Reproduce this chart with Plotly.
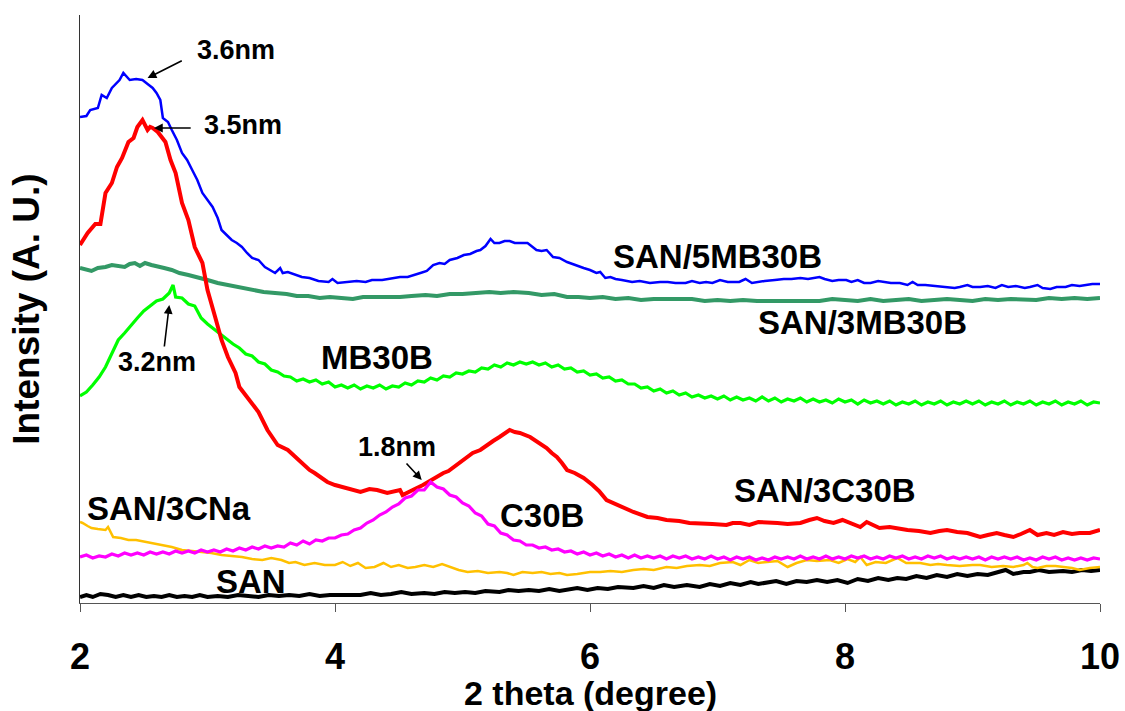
import plotly.graph_objects as go

# ---- data: (2theta in degree, intensity in arbitrary units) ----
san_5mb30b = [(2.00,486),(2.05,487),(2.08,493),(2.12,494),(2.14,495),(2.17,508),(2.21,505),(2.25,515),(2.29,520),(2.31,523),(2.34,530),(2.37,526),(2.39,523),(2.44,524),(2.49,523),(2.53,519),(2.57,515),(2.60,510),(2.63,503),(2.65,485),(2.69,481),(2.72,473),(2.76,463),(2.80,450),(2.84,443),(2.88,433),(2.92,423),(2.96,410),(3.00,403),(3.04,396),(3.08,385),(3.11,373),(3.15,368),(3.19,363),(3.23,360),(3.27,356),(3.31,350),(3.35,345),(3.40,343),(3.45,336),(3.49,333),(3.53,330),(3.57,335),(3.59,330),(3.63,331),(3.69,328),(3.74,326),(3.80,325),(3.87,322),(3.95,321),(3.98,324),(4.02,320),(4.10,321),(4.17,322),(4.24,321),(4.29,323),(4.37,323),(4.43,324),(4.51,326),(4.57,326),(4.63,328),(4.67,330),(4.72,332),(4.77,338),(4.82,340),(4.86,339),(4.90,343),(4.96,345),(5.01,348),(5.06,349),(5.11,352),(5.14,353),(5.18,357),(5.22,364),(5.25,360),(5.29,360),(5.33,362),(5.37,362),(5.41,360),(5.45,360),(5.51,360),(5.55,356),(5.58,353),(5.62,352),(5.66,353),(5.71,346),(5.76,345),(5.82,341),(5.88,338),(5.95,335),(6.00,333),(6.05,330),(6.08,331),(6.12,325),(6.16,326),(6.20,324),(6.25,323),(6.33,321),(6.39,322),(6.47,320),(6.55,321),(6.61,321),(6.67,320),(6.75,320),(6.80,322),(6.86,320),(6.91,321),(6.96,320),(7.02,323),(7.08,321),(7.17,321),(7.22,324),(7.27,320),(7.31,321),(7.37,322),(7.45,323),(7.52,324),(7.58,324),(7.65,325),(7.71,324),(7.76,325),(7.80,326),(7.84,324),(7.90,322),(7.95,323),(8.01,323),(8.05,321),(8.10,323),(8.15,320),(8.20,320),(8.26,322),(8.31,321),(8.36,320),(8.43,320),(8.49,318),(8.53,321),(8.57,318),(8.63,318),(8.71,317),(8.78,316),(8.86,315),(8.90,316),(8.96,318),(9.00,316),(9.06,316),(9.12,317),(9.18,315),(9.23,318),(9.28,316),(9.34,317),(9.41,315),(9.45,316),(9.51,318),(9.55,315),(9.61,314),(9.66,316),(9.73,316),(9.78,318),(9.84,317),(9.89,318),(9.94,319),(10.00,319)]

san_3mb30b = [(2.00,335),(2.05,333),(2.09,332),(2.14,335),(2.20,336),(2.25,338),(2.30,337),(2.35,336),(2.39,339),(2.43,340),(2.47,337),(2.51,340),(2.56,338),(2.61,336),(2.66,335),(2.72,333),(2.78,330),(2.85,328),(2.92,326),(3.00,323),(3.08,320),(3.16,318),(3.25,316),(3.35,313),(3.44,311),(3.53,310),(3.62,309),(3.70,307),(3.79,307),(3.88,305),(3.96,306),(4.05,305),(4.14,304),(4.22,306),(4.31,306),(4.40,305),(4.51,306),(4.60,307),(4.71,308),(4.80,307),(4.90,309),(5.00,309),(5.10,310),(5.21,311),(5.30,310),(5.40,311),(5.52,310),(5.62,308),(5.72,309),(5.82,306),(5.91,306),(6.00,305),(6.10,306),(6.20,304),(6.30,305),(6.40,303),(6.50,304),(6.61,304),(6.70,303),(6.80,304),(6.90,302),(7.00,303),(7.10,302),(7.20,303),(7.31,302),(7.40,302),(7.50,303),(7.60,302),(7.70,303),(7.80,302),(7.90,304),(8.01,303),(8.10,302),(8.20,304),(8.30,302),(8.40,303),(8.50,304),(8.60,302),(8.71,303),(8.80,304),(8.90,303),(9.00,302),(9.10,304),(9.20,303),(9.30,304),(9.41,304),(9.50,303),(9.60,305),(9.70,304),(9.80,305),(9.90,304),(10.00,305)]

san_3c30b = [(2.00,358),(2.06,370),(2.12,379),(2.16,379),(2.20,410),(2.25,420),(2.29,436),(2.33,445),(2.38,461),(2.42,465),(2.45,476),(2.49,483),(2.53,473),(2.55,476),(2.57,475),(2.61,471),(2.67,461),(2.71,443),(2.75,430),(2.77,416),(2.80,400),(2.85,383),(2.90,356),(2.96,340),(3.00,313),(3.06,286),(3.11,263),(3.16,246),(3.22,230),(3.25,216),(3.32,205),(3.40,191),(3.47,173),(3.55,158),(3.63,153),(3.69,146),(3.74,140),(3.80,133),(3.84,130),(3.94,121),(4.00,118),(4.06,116),(4.13,113),(4.20,111),(4.27,114),(4.33,113),(4.41,110),(4.47,112),(4.51,113),(4.53,108),(4.57,111),(4.61,113),(4.69,118),(4.73,121),(4.77,125),(4.85,130),(4.89,132),(4.93,136),(5.00,143),(5.04,146),(5.08,150),(5.14,153),(5.19,158),(5.24,162),(5.29,166),(5.33,170),(5.37,173),(5.41,171),(5.45,170),(5.53,166),(5.60,160),(5.66,155),(5.70,150),(5.74,146),(5.78,140),(5.82,133),(5.88,130),(5.95,125),(6.02,118),(6.07,112),(6.13,103),(6.18,100),(6.24,96),(6.34,91),(6.45,86),(6.53,85),(6.60,83),(6.70,82),(6.78,80),(6.86,80),(6.96,79),(7.07,78),(7.12,80),(7.18,80),(7.25,78),(7.32,81),(7.39,81),(7.47,80),(7.55,79),(7.65,80),(7.72,83),(7.78,85),(7.84,82),(7.91,80),(7.98,83),(8.05,80),(8.12,76),(8.17,81),(8.22,78),(8.27,75),(8.35,76),(8.42,74),(8.49,73),(8.58,72),(8.67,70),(8.74,72),(8.80,73),(8.88,71),(8.96,70),(9.01,68),(9.06,66),(9.12,68),(9.19,70),(9.25,68),(9.32,66),(9.38,69),(9.45,73),(9.51,68),(9.58,70),(9.64,68),(9.71,71),(9.78,69),(9.84,70),(9.92,70),(10.00,73)]

mb30b = [(2.00,207),(2.05,211),(2.10,218),(2.15,226),(2.20,236),(2.25,249),(2.30,263),(2.35,270),(2.40,278),(2.45,285),(2.50,292),(2.55,297),(2.60,302),(2.65,304),(2.70,310),(2.73,318),(2.75,306),(2.80,305),(2.85,299),(2.90,297),(2.95,285),(3.00,279),(3.05,274),(3.10,268),(3.15,264),(3.20,259),(3.25,255),(3.30,249),(3.35,247),(3.40,241),(3.45,239),(3.50,233),(3.55,231),(3.60,227),(3.65,226),(3.70,222),(3.75,224),(3.80,221),(3.85,223),(3.90,219),(3.95,221),(4.00,216),(4.05,218),(4.10,215),(4.15,218),(4.20,214),(4.25,217),(4.30,215),(4.35,218),(4.40,214),(4.45,217),(4.50,216),(4.55,220),(4.60,218),(4.65,222),(4.70,221),(4.75,225),(4.80,223),(4.85,227),(4.90,226),(4.95,230),(5.00,229),(5.05,232),(5.10,231),(5.15,235),(5.20,234),(5.25,238),(5.30,236),(5.35,240),(5.40,238),(5.45,241),(5.50,239),(5.55,241),(5.60,238),(5.65,240),(5.70,236),(5.75,238),(5.80,234),(5.85,235),(5.90,231),(5.95,232),(6.00,228),(6.05,229),(6.10,225),(6.15,226),(6.20,222),(6.25,223),(6.30,219),(6.35,219),(6.40,215),(6.45,216),(6.50,212),(6.55,214),(6.60,210),(6.65,212),(6.70,208),(6.75,210),(6.80,206),(6.85,208),(6.90,205),(6.95,207),(7.00,204),(7.05,207),(7.10,203),(7.15,206),(7.20,203),(7.25,205),(7.30,202),(7.35,206),(7.40,202),(7.45,205),(7.50,201),(7.55,204),(7.60,202),(7.65,205),(7.70,201),(7.75,204),(7.80,201),(7.85,203),(7.90,200),(7.95,204),(8.00,201),(8.05,203),(8.10,199),(8.15,203),(8.20,200),(8.25,202),(8.30,199),(8.35,202),(8.40,198),(8.45,201),(8.50,199),(8.55,202),(8.60,198),(8.65,201),(8.70,199),(8.75,202),(8.80,198),(8.85,201),(8.90,199),(8.95,202),(9.00,199),(9.05,202),(9.10,198),(9.15,201),(9.20,199),(9.25,202),(9.30,198),(9.35,201),(9.40,199),(9.45,202),(9.50,198),(9.55,201),(9.60,199),(9.65,202),(9.70,198),(9.75,201),(9.80,199),(9.85,202),(9.90,198),(9.95,201),(10.00,200)]

c30b = [(2.00,46),(2.05,48),(2.10,45),(2.15,47),(2.20,46),(2.25,49),(2.30,47),(2.35,50),(2.40,48),(2.45,50),(2.50,48),(2.55,51),(2.60,49),(2.65,51),(2.70,49),(2.75,52),(2.80,50),(2.85,52),(2.90,50),(2.95,53),(3.00,51),(3.05,53),(3.10,51),(3.15,54),(3.20,52),(3.25,55),(3.30,53),(3.35,56),(3.40,54),(3.45,57),(3.50,55),(3.55,57),(3.60,56),(3.65,60),(3.70,58),(3.75,62),(3.80,59),(3.85,63),(3.90,62),(3.95,65),(4.00,65),(4.05,68),(4.10,69),(4.15,73),(4.20,75),(4.25,80),(4.30,83),(4.35,88),(4.40,91),(4.45,96),(4.50,99),(4.55,105),(4.60,107),(4.65,113),(4.70,113),(4.75,121),(4.80,116),(4.85,114),(4.90,108),(4.95,106),(5.00,100),(5.05,97),(5.10,90),(5.15,87),(5.20,79),(5.25,77),(5.30,70),(5.35,68),(5.40,63),(5.45,62),(5.50,58),(5.55,58),(5.60,55),(5.65,56),(5.70,53),(5.75,54),(5.80,51),(5.85,52),(5.90,49),(5.95,51),(6.00,48),(6.05,50),(6.10,47),(6.15,49),(6.20,46),(6.25,48),(6.30,45),(6.35,48),(6.40,45),(6.45,47),(6.50,45),(6.55,47),(6.60,44),(6.65,47),(6.70,45),(6.75,47),(6.80,44),(6.85,46),(6.90,44),(6.95,47),(7.00,44),(7.05,46),(7.10,43),(7.15,46),(7.20,44),(7.25,46),(7.30,43),(7.35,45),(7.40,43),(7.45,46),(7.50,44),(7.55,46),(7.60,44),(7.65,47),(7.70,44),(7.75,46),(7.80,44),(7.85,47),(7.90,44),(7.95,46),(8.00,44),(8.05,47),(8.10,45),(8.15,47),(8.20,44),(8.25,46),(8.30,44),(8.35,47),(8.40,45),(8.45,47),(8.50,44),(8.55,46),(8.60,44),(8.65,47),(8.70,45),(8.75,47),(8.80,44),(8.85,46),(8.90,44),(8.95,46),(9.00,44),(9.05,46),(9.10,43),(9.15,46),(9.20,44),(9.25,46),(9.30,44),(9.35,46),(9.40,43),(9.45,45),(9.50,43),(9.55,46),(9.60,44),(9.65,46),(9.70,43),(9.75,45),(9.80,43),(9.85,45),(9.90,43),(9.95,45),(10.00,44)]

san_3cna = [(2.00,81),(2.02,80),(2.06,77),(2.09,75),(2.14,74),(2.20,73),(2.22,76),(2.26,66),(2.32,65),(2.38,63),(2.44,63),(2.51,61),(2.57,60),(2.64,58),(2.72,56),(2.80,53),(2.88,52),(2.96,51),(3.03,50),(3.11,48),(3.19,47),(3.27,46),(3.35,44),(3.43,43),(3.50,45),(3.58,43),(3.64,40),(3.69,41),(3.76,38),(3.84,40),(3.92,38),(4.00,38),(4.06,41),(4.12,37),(4.18,40),(4.24,35),(4.31,36),(4.38,40),(4.44,36),(4.50,38),(4.57,35),(4.63,36),(4.70,38),(4.77,36),(4.84,39),(4.90,36),(4.97,33),(5.04,31),(5.12,32),(5.20,30),(5.29,31),(5.35,30),(5.40,28),(5.47,31),(5.55,30),(5.62,31),(5.69,29),(5.76,30),(5.82,28),(5.90,29),(6.00,31),(6.08,31),(6.16,32),(6.25,31),(6.34,33),(6.42,34),(6.50,33),(6.60,36),(6.68,35),(6.76,37),(6.86,38),(6.94,37),(7.02,40),(7.12,41),(7.18,38),(7.25,43),(7.32,40),(7.39,41),(7.47,42),(7.55,36),(7.62,40),(7.70,43),(7.78,42),(7.88,43),(7.95,40),(8.02,44),(8.08,41),(8.12,46),(8.17,38),(8.24,41),(8.32,40),(8.41,45),(8.48,40),(8.55,40),(8.59,40),(8.67,38),(8.73,39),(8.80,38),(8.90,37),(9.00,38),(9.06,38),(9.15,36),(9.24,37),(9.32,36),(9.40,38),(9.43,40),(9.47,36),(9.51,35),(9.58,37),(9.65,37),(9.71,36),(9.78,35),(9.84,33),(9.92,35),(10.00,36)]

san = [(2.00,6),(2.05,8),(2.10,6),(2.16,9),(2.22,8),(2.28,6),(2.34,8),(2.40,6),(2.46,8),(2.52,6),(2.58,7),(2.64,6),(2.70,8),(2.76,6),(2.82,7),(2.88,6),(2.94,8),(3.00,6),(3.08,7),(3.16,6),(3.24,8),(3.32,7),(3.40,6),(3.48,8),(3.56,7),(3.64,8),(3.72,7),(3.80,9),(3.88,7),(3.96,8),(4.05,8),(4.12,9),(4.20,8),(4.28,10),(4.36,8),(4.44,9),(4.52,11),(4.60,9),(4.70,10),(4.78,9),(4.86,11),(4.94,10),(5.02,11),(5.10,10),(5.18,12),(5.29,11),(5.36,13),(5.44,12),(5.52,13),(5.60,12),(5.68,14),(5.76,12),(5.82,13),(5.90,15),(5.98,13),(6.06,15),(6.14,14),(6.22,16),(6.34,15),(6.42,17),(6.50,15),(6.58,18),(6.66,16),(6.76,18),(6.86,16),(6.94,19),(7.02,17),(7.10,20),(7.18,18),(7.26,21),(7.32,19),(7.39,20),(7.46,22),(7.54,19),(7.62,22),(7.70,21),(7.78,23),(7.86,21),(7.94,23),(8.02,20),(8.10,24),(8.18,22),(8.26,25),(8.34,23),(8.41,25),(8.48,24),(8.56,27),(8.64,25),(8.72,28),(8.80,26),(8.88,29),(8.96,27),(9.04,29),(9.12,28),(9.19,30),(9.26,33),(9.32,29),(9.40,31),(9.45,31),(9.52,33),(9.60,31),(9.71,32),(9.78,31),(9.86,33),(9.93,32),(10.00,33)]

x_ticks = [2, 4, 6, 8, 10]
x_title = "2 theta (degree)"
y_title = "Intensity (A. U.)"

# series labels: (text, x, y)
series_labels = [("SAN/5MB30B", 7.00, 347), ("SAN/3MB30B", 8.14, 281), ("MB30B", 4.33, 246),
                 ("C30B", 5.62, 88), ("SAN/3C30B", 7.84, 113), ("SAN/3CNa", 2.70, 95), ("SAN", 3.34, 22)]
# d-spacing labels: (text, x, y, arrow tail x, tail y, head x, head y)
d_labels = [("3.6nm", 3.22, 553, 2.81, 543, 2.53, 525),
            ("3.5nm", 3.28, 478, 2.88, 475, 2.58, 475),
            ("3.2nm", 2.60, 241, 2.66, 255, 2.70, 298),
            ("1.8nm", 4.49, 156, 4.55, 141, 4.68, 123)]

FONT = "Liberation Sans, Arial, sans-serif"

fig = go.Figure()
traces = [
    ("SAN", san, "#000000", 4),
    ("SAN/3CNa", san_3cna, "#ffc000", 2.5),
    ("SAN/3MB30B", san_3mb30b, "#339966", 4),
    ("SAN/5MB30B", san_5mb30b, "#0000ff", 2.5),
    ("MB30B", mb30b, "#00ff00", 3.2),
    ("SAN/3C30B", san_3c30b, "#ff0000", 4),
    ("C30B", c30b, "#ff00ff", 3.2),
]
for name, data, color, w in traces:
    fig.add_trace(go.Scatter(x=[p[0] for p in data], y=[p[1] for p in data], mode="lines",
                             name=name, line=dict(color=color, width=w), showlegend=False))

for text, x, y in series_labels:
    fig.add_annotation(x=x, y=y, text=text, showarrow=False, xanchor="center", yanchor="middle",
                       font=dict(family=FONT, size=33, color="black", weight="bold"))

for text, x, y, tx, ty, hx, hy in d_labels:
    fig.add_annotation(x=x, y=y, text=text, showarrow=False, xanchor="center", yanchor="middle",
                       font=dict(family=FONT, size=27, color="black", weight="bold"))
    fig.add_annotation(x=hx, y=hy, ax=tx, ay=ty, xref="x", yref="y", axref="x", ayref="y",
                       text="", showarrow=True, arrowhead=2, arrowsize=1.1, arrowwidth=1.6,
                       arrowcolor="black")

# x-axis title placed just under the tick labels (touching them, as in the original)
fig.add_annotation(text=x_title, xref="paper", yref="paper", x=0.5, y=-0.153,
                   xanchor="center", yanchor="middle", showarrow=False,
                   font=dict(family=FONT, size=34, color="black", weight="bold"))

fig.update_layout(
    width=1125, height=711,
    margin=dict(l=80, r=25, t=15, b=108, autoexpand=False),
    paper_bgcolor="white", plot_bgcolor="white",
    font=dict(family=FONT, color="black"),
    xaxis=dict(range=[2, 10], tickvals=x_ticks, ticktext=[str(v) for v in x_ticks],
               showline=True, linecolor="#555555", linewidth=1, ticks="outside", ticklen=8,
               tickcolor="#555555", showgrid=False, zeroline=False, ticklabelstandoff=14,
               automargin=False,
               tickfont=dict(family=FONT, size=36, color="black", weight="bold")),
    yaxis=dict(range=[0, 588], showline=True, linecolor="#333333", linewidth=1, ticks="",
               showticklabels=False, showgrid=False, zeroline=False, automargin=False,
               title=dict(text=y_title, standoff=28,
                          font=dict(family=FONT, size=37, color="black", weight="bold"))),
)

fig.write_html("out.html", config={"displayModeBar": False},
               post_script="document.body.style.margin='0';document.body.style.overflow='hidden';")
